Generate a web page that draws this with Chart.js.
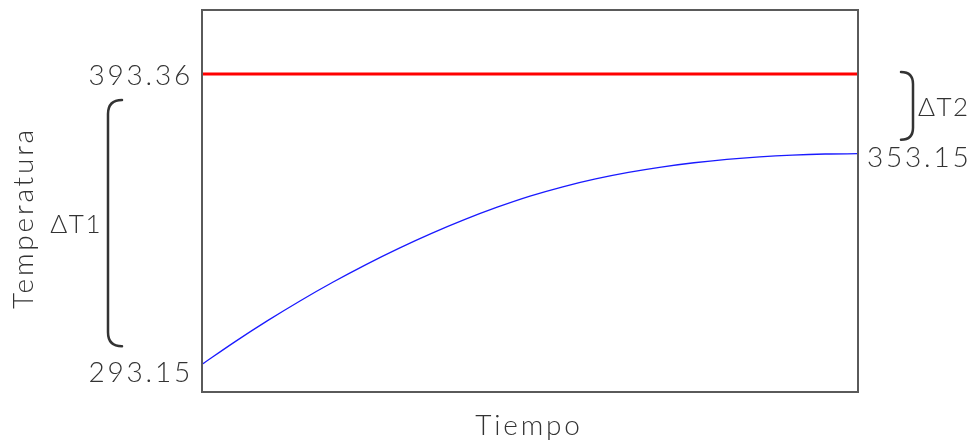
<!DOCTYPE html>
<html>
<head>
<meta charset="utf-8">
<script src="https://cdn.jsdelivr.net/npm/chart.js@4/dist/chart.umd.min.js"></script>
<style>
  html, body { margin: 0; padding: 0; background: #ffffff; }
  #wrap { width: 976px; height: 441px; }
</style>
</head>
<body>
<div id="wrap"><canvas id="chart" width="976" height="441"></canvas></div>
<script>
// Time axis (arbitrary units) and the heating curve of the product
const tiempo = [0, 5, 10, 15, 20, 25, 30, 35, 40, 45, 50, 55, 60, 65, 70, 75, 80, 85, 90, 95, 100];
const temperaturaProducto = [293.15, 299.55, 305.59, 311.27, 316.59, 321.56, 326.18, 330.45, 334.36, 337.90,
  341.06, 343.72, 345.96, 347.82, 349.34, 350.57, 351.54, 352.27, 352.77, 353.06, 353.15];
// Heating medium held at constant temperature
const temperaturaMedio = [393.36, 393.36];
const tiempoMedio = [0, 100];

// Labelled temperatures
const tInicial = 293.15;
const tFinal = 353.15;
const tMedio = 393.36;

const etiquetas = { eje_y: 'Temperatura', eje_x: 'Tiempo', dt1: '\u0394T1', dt2: '\u0394T2' };

// Schematic (not-to-scale) temperature axis: piecewise linear between stops
class StretchScale extends Chart.LinearScale {
  _stops() { return this.options.stops || [[this.min, 0], [this.max, 1]]; }
  getPixelForValue(value) {
    const s = this._stops();
    let i = 0;
    while (i < s.length - 2 && value > s[i + 1][0]) i++;
    const [v0, d0] = s[i], [v1, d1] = s[i + 1];
    const dec = d0 + (value - v0) * (d1 - d0) / (v1 - v0);
    return this.getPixelForDecimal(dec);
  }
  getValueForPixel(pixel) {
    const s = this._stops();
    const dec = this.getDecimalForPixel(pixel);
    let i = 0;
    while (i < s.length - 2 && dec > s[i + 1][1]) i++;
    const [v0, d0] = s[i], [v1, d1] = s[i + 1];
    return v0 + (dec - d0) * (v1 - v0) / (d1 - d0);
  }
}
StretchScale.id = 'stretch';
StretchScale.defaults = Chart.LinearScale.defaults;
Chart.register(StretchScale);

const FONT = '300 28px Lato';
const INK = '#333333';

function texto(ctx, str, x, y, align, font, spacing) {
  ctx.font = font || FONT;
  if ('letterSpacing' in ctx) ctx.letterSpacing = spacing || '2.8px';
  ctx.textAlign = align;
  ctx.textBaseline = 'alphabetic';
  ctx.fillText(str, x, y);
}

// Frame, value labels, ΔT brackets and axis titles
const anotaciones = {
  id: 'anotaciones',
  afterDatasetsDraw(chart) {
    const { ctx, chartArea: a, scales } = chart;
    const y = scales.y;
    const yMedio = y.getPixelForValue(tMedio);
    const yIni = y.getPixelForValue(tInicial);
    const yFin = y.getPixelForValue(tFinal);
    ctx.save();

    // frame
    ctx.strokeStyle = '#5a5a5a';
    ctx.lineWidth = 2;
    ctx.strokeRect(a.left, a.top, a.right - a.left, a.bottom - a.top);

    ctx.fillStyle = INK;

    // value labels
    texto(ctx, tMedio.toFixed(2), a.left - 9, yMedio + 11, 'right');
    texto(ctx, tInicial.toFixed(2), a.left - 9, yIni + 18, 'right');
    texto(ctx, tFinal.toFixed(2), a.right + 9, yFin + 13, 'left');

    // ΔT1 bracket (between heating medium and initial temperature)
    ctx.strokeStyle = INK;
    ctx.lineWidth = 2.5;
    ctx.lineCap = 'round';
    let top = yMedio + 26, bot = yIni - 18, xb = 108, r = 14;
    ctx.beginPath();
    ctx.moveTo(xb + r, top);
    ctx.quadraticCurveTo(xb, top, xb, top + r);
    ctx.lineTo(xb, bot - r);
    ctx.quadraticCurveTo(xb, bot, xb + r, bot);
    ctx.stroke();
    texto(ctx, etiquetas.dt1, 102, (top + bot) / 2 + 10, 'right', '300 26px Lato', '1.5px');

    // ΔT2 bracket (between heating medium and final temperature)
    top = yMedio - 2; bot = yFin - 14; xb = 913; r = 12;
    ctx.beginPath();
    ctx.moveTo(xb - r, top);
    ctx.quadraticCurveTo(xb, top, xb, top + r);
    ctx.lineTo(xb, bot - r);
    ctx.quadraticCurveTo(xb, bot, xb - r, bot);
    ctx.stroke();
    texto(ctx, etiquetas.dt2, 918, (top + bot) / 2 + 10, 'left', '300 26px Lato', '1.5px');

    // axis titles
    texto(ctx, etiquetas.eje_x, (a.left + a.right) / 2 - 1, 435, 'center');
    ctx.save();
    ctx.translate(33, 218);
    ctx.rotate(-Math.PI / 2);
    texto(ctx, etiquetas.eje_y, 0, 0, 'center');
    ctx.restore();

    ctx.restore();
  }
};

new Chart(document.getElementById('chart'), {
  type: 'line',
  data: {
    datasets: [
      {
        label: 'Medio',
        data: tiempoMedio.map((t, i) => ({ x: t, y: temperaturaMedio[i] })),
        borderColor: '#ff0000',
        borderWidth: 3,
        pointRadius: 0
      },
      {
        label: 'Producto',
        data: tiempo.map((t, i) => ({ x: t, y: temperaturaProducto[i] })),
        borderColor: '#1a1aff',
        borderWidth: 1.3,
        pointRadius: 0,
        cubicInterpolationMode: 'monotone'
      }
    ]
  },
  options: {
    responsive: false,
    animation: false,
    events: [],
    layout: { padding: { left: 202, right: 118, top: 10, bottom: 49 } },
    plugins: { legend: { display: false }, tooltip: { enabled: false } },
    scales: {
      x: { type: 'linear', min: 0, max: 100, display: false },
      y: {
        type: 'stretch', min: 285, max: 426, display: false,
        stops: [[285.26, 0], [tInicial, 0.0725], [tFinal, 0.6238], [tMedio, 0.8325], [425.65, 1]]
      }
    }
  },
  plugins: [anotaciones]
});
</script>
</body>
</html>
